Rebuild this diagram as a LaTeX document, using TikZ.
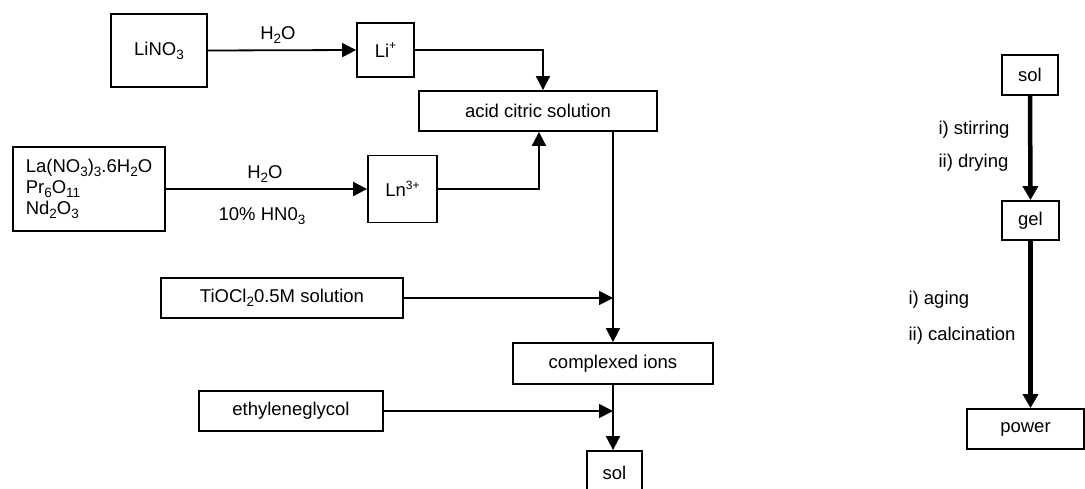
\documentclass[tikz,border=0pt]{standalone}
\usepackage{fontspec}
\setmainfont{Liberation Sans}
\usetikzlibrary{arrows.meta,positioning}
\newcommand{\chemsub}[1]{\raisebox{-0.4ex}{\fontsize{13.5}{14}\selectfont #1}}
\newcommand{\chemsup}[1]{\raisebox{0.75ex}{\fontsize{12}{12}\selectfont #1}}

\begin{document}
\begin{tikzpicture}[x=1pt,y=-1pt,font=\fontsize{18.5}{21}\selectfont,
		box/.style={draw,line width=1.8pt,inner sep=2pt},
		flow/.style={line width=1.8pt,-{Triangle[length=14pt,width=14pt]}},
		heavy/.style={line width=4.5pt,-{Triangle[length=14pt,width=15pt]}}]
		\useasboundingbox (0,0) rectangle (1085,488);
		\node [box,minimum width=96,minimum height=73](lino) at (159,50.5) {LiNO\chemsub{3}};
		\node [box,minimum width=57,minimum height=54](li) at (385.5,50) {Li\chemsup{+}};
		\node [box,minimum width=238,minimum height=40](acid) at (538,111) {acid citric solution};
		\node [box,minimum width=152,minimum height=84,align=left](ln_salts) at (89,189) {La(NO\chemsub{3})\chemsub{3}.6H\chemsub{2}O\\Pr\chemsub{6}O\chemsub{11}\\Nd\chemsub{2}O\chemsub{3}};
		\node [box,minimum width=69,minimum height=67](ln) at (402.5,189) {Ln\chemsup{3+}};
		\node [box,minimum width=242,minimum height=40](tio) at (282,298) {TiOCl\chemsub{2}0.5M solution};
		\node [box,minimum width=200,minimum height=41](cplx) at (613,363.5) {complexed ions};
		\node [box,minimum width=184,minimum height=40](glycol) at (291,411) {ethyleneglycol};
		\node [box,minimum width=55,minimum height=44](sol) at (614.5,473) {sol};
		\node [](h2o_a) at (278,35) {H\chemsub{2}O};
		\node [](h2o_b) at (265,174) {H\chemsub{2}O};
		\node [](hno) at (262,216) {10\% HN0\chemsub{3}};
		\draw [flow] (lino.east) -- (li.west);
		\draw [flow] (li.east) -| ([xshift=5pt]acid.north);
		\draw [flow] (ln_salts.east) -- (ln.west);
		\draw [flow] (ln.east) -| ([xshift=1pt]acid.south);
		\draw [flow] ([xshift=75pt]acid.south) -- (cplx.north);
		\draw [flow] (tio.east) -- (tio.east -| cplx.north);
		\draw [flow] (cplx.south) -- (cplx.south |- sol.north);
		\draw [flow] (glycol.east) -- (glycol.east -| cplx.south);
		\node [box,minimum width=56,minimum height=40](sol_r) at (1030,75) {sol};
		\node [box,minimum width=57,minimum height=39](gel) at (1030.5,220.5) {gel};
		\node [box,minimum width=117,minimum height=40](power) at (1025.5,429) {power};
		\node [anchor=west](stir) at (935,130) {i) stirring};
		\node [anchor=west](dry) at (935,163) {ii) drying};
		\node [anchor=west](aging) at (905,300) {i) aging};
		\node [anchor=west](calc) at (905,336) {ii) calcination};
		\draw [heavy] (sol_r.south) -- (gel.north);
		\draw [heavy] (gel.south) -- (gel.south |- power.north);
\end{tikzpicture}
\end{document}
